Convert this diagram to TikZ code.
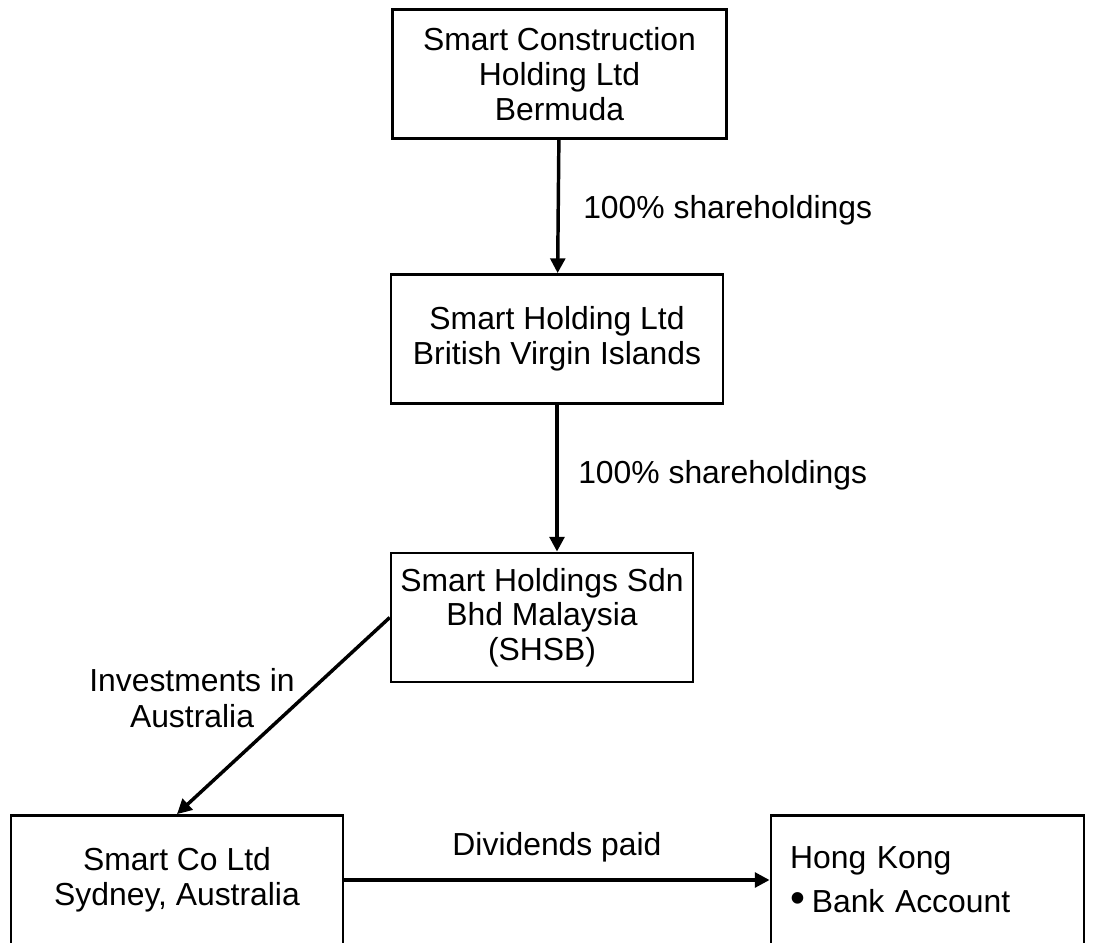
\documentclass[tikz,border=0pt]{standalone}
\usepackage{fontspec}
\setmainfont{Liberation Sans}
\usetikzlibrary{arrows.meta}
\usetikzlibrary{calc}

\begin{document}
\begin{tikzpicture}[x = 0.75pt, y = -0.75pt,
        box/.style = {draw = black, line width = 1.9pt, align = center, minimum height = 97pt,
            font = \fontsize{23.9pt}{26pt}\selectfont},
        arr/.style = {line width = 2.6pt, -{Triangle[length = 11pt, width = 11pt]}},
        lbl/.style = {inner sep = 0pt, font = \fontsize{23.9pt}{27.5pt}\selectfont}]
            \useasboundingbox (0,0) rectangle (1095,942);
            \clip (0,0) rectangle (1095,942);

            % companies
            \node[box, minimum width = 250.5pt] (bermuda) at (559.5,74) {Smart Construction\\Holding Ltd\\Bermuda};
            \node[box, minimum width = 249pt] (bvi) at (557,339) {Smart Holding Ltd\\British Virgin Islands};
            \node[box, minimum width = 226.5pt] (shsb) at (542,617.5) {Smart Holdings Sdn\\Bhd Malaysia\\(SHSB)};
            \node[box, minimum width = 249pt] (sydney) at (177,880) {Smart Co Ltd\\Sydney, Australia};
            \node[box, align = left, text width = 206pt, inner xsep = 14.5pt, font = \fontsize{23.9pt}{33pt}\selectfont]
                (hongkong) at (927.5,880) {Hong Kong\\{\fontsize{32pt}{33pt}\selectfont\textbullet}\hspace{5pt}Bank Account};

            % flows
            \draw[arr] (bermuda) -- (bvi);
            \draw[arr] (bvi.south) -- (bvi.south |- shsb.north);
            \draw[arr] (shsb.west) -- (sydney.north);
            \draw[arr] (sydney.east) -- (hongkong.west);

            \node[lbl, anchor = west] (share1) at (583,210) {100\% shareholdings};
            \node[lbl, anchor = west] (share2) at (578,475) {100\% shareholdings};
            \node[lbl, align = center] (invest) at (192,698) {Investments in\\Australia};
            \node[lbl] (divs) at (557,847) {Dividends paid};
        \end{tikzpicture}
\end{document}
